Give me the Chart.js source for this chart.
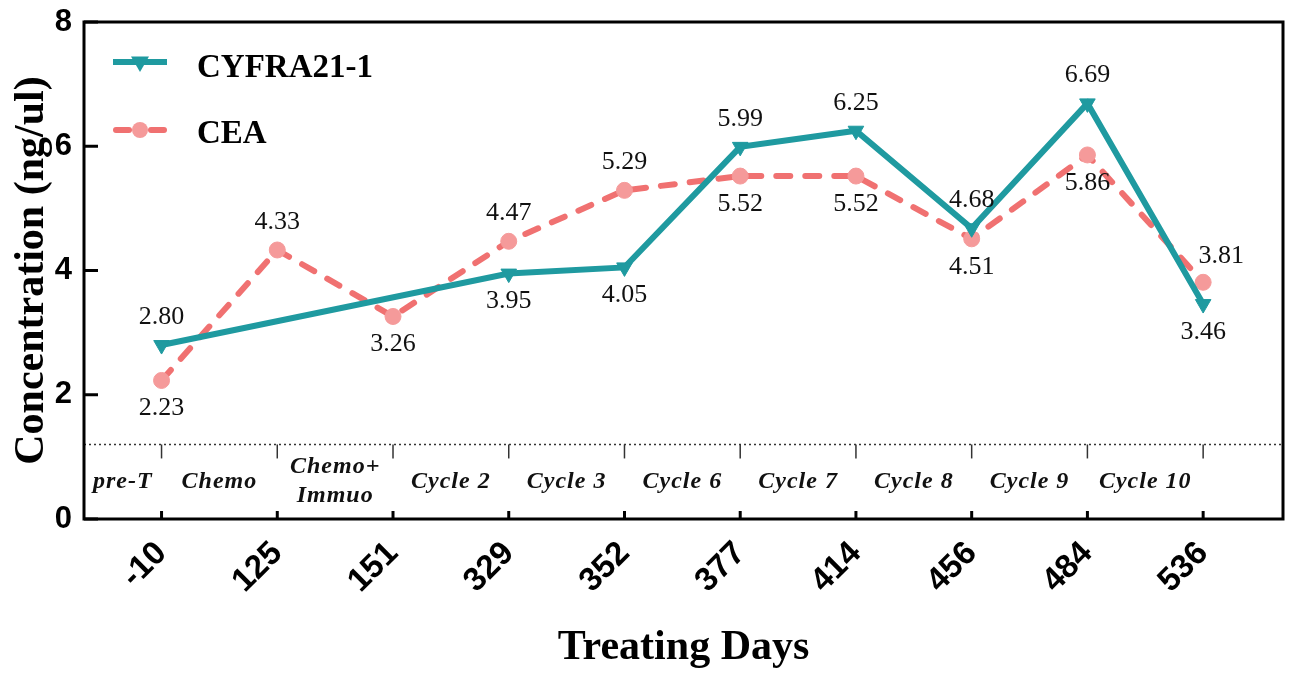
<!DOCTYPE html>
<html><head><meta charset="utf-8">
<script src="https://cdn.jsdelivr.net/npm/chart.js@4.4.0/dist/chart.umd.min.js"></script>
<style>html,body{margin:0;padding:0;background:#fff;} #wrap{width:1299px;height:677px;position:relative;}</style>
</head><body><div id="wrap"><canvas id="c"></canvas></div>
<script>
// ---- data ----
const categories = ['-10','125','151','329','352','377','414','456','484','536'];
const cyfraValues = [2.80, null, null, 3.95, 4.05, 5.99, 6.25, 4.68, 6.69, 3.46];
const ceaValues = [2.23, 4.33, 3.26, 4.47, 5.29, 5.52, 5.52, 4.51, 5.86, 3.81];
const phaseLabels = ['pre-T','Chemo','Chemo+\nImmuo','Cycle 2','Cycle 3','Cycle 6','Cycle 7','Cycle 8','Cycle 9','Cycle 10'];
const yTicks = [0, 2, 4, 6, 8];
const dividerLevel = 1.2;
const cyfraLabelPlace = ['above',null,null,'below','below','above','above','above','above','below'];
const ceaLabelPlace = ['below','above','below','above','above','below','below','below','below','aboveRight'];

// ---- styles ----
const SERIF = '"Liberation Serif", "Times New Roman", serif';
const SANS = '"Liberation Sans", Arial, sans-serif';
const TEAL = '#1f9aa0';
const SALMON = '#f07171';
const SALMON_PT = '#f59a9a';

const toPoints = arr => arr.map((v, i) => ({x: i, y: v}));

const decor = {
  id: 'decor',
  beforeDatasetsDraw(chart) {
    const {ctx, chartArea: a, scales: {x, y}} = chart;
    const yd = y.getPixelForValue(dividerLevel);
    ctx.save();
    ctx.strokeStyle = '#333'; ctx.lineWidth = 1.5; ctx.setLineDash([2, 3]);
    ctx.beginPath(); ctx.moveTo(a.left, yd); ctx.lineTo(a.right, yd); ctx.stroke();
    ctx.setLineDash([]);
    categories.forEach((c, i) => {
      const px = x.getPixelForValue(i);
      ctx.beginPath(); ctx.moveTo(px, yd); ctx.lineTo(px, yd + 14); ctx.stroke();
    });
    ctx.fillStyle = '#111';
    ctx.font = 'italic bold 24px ' + SERIF;
    ctx.textAlign = 'center'; ctx.textBaseline = 'middle';
    try { ctx.letterSpacing = '1px'; } catch (e) {}
    const ym = y.getPixelForValue(dividerLevel / 2);
    phaseLabels.forEach((t, i) => {
      const x0 = i === 0 ? x.min : i - 1;
      const xc = (x.getPixelForValue(x0) + x.getPixelForValue(i)) / 2;
      const lines = t.split('\n');
      lines.forEach((ln, k) => ctx.fillText(ln, xc, ym + (k - (lines.length - 1) / 2) * 29));
    });
    ctx.restore();
  },
  afterDatasetsDraw(chart) {
    const {ctx, chartArea: a} = chart;
    ctx.save();
    // value labels
    ctx.fillStyle = '#111';
    ctx.font = '26px ' + SERIF;
    ctx.textAlign = 'center'; ctx.textBaseline = 'middle';
    const places = [cyfraLabelPlace, ceaLabelPlace];
    const values = [cyfraValues, ceaValues];
    [0, 1].forEach(d => {
      const meta = chart.getDatasetMeta(d);
      meta.data.forEach((pt, i) => {
        const v = values[d][i];
        const pl = places[d][i];
        if (v == null || !pl) return;
        let dx = 0, dy = 0;
        if (pl === 'above') dy = -28;
        else if (pl === 'below') dy = 28;
        else if (pl === 'aboveRight') { dx = 18; dy = -26; }
        ctx.fillText(v.toFixed(2), pt.x + dx, pt.y + dy);
      });
    });
    // legend
    const items = [
      {text: 'CYFRA21-1', ds: 0, ly: a.top + 40, ty: a.top + 55},
      {text: 'CEA', ds: 1, ly: a.top + 108, ty: a.top + 121}
    ];
    items.forEach(it => {
      const ds = chart.data.datasets[it.ds];
      const x1 = a.left + 29, x2 = a.left + 83, xm = (x1 + x2) / 2;
      ctx.strokeStyle = ds.borderColor; ctx.lineWidth = ds.borderWidth;
      ctx.lineCap = ds.borderCapStyle || 'butt';
      if (ds.borderDash) {
        ctx.beginPath(); ctx.moveTo(x1 + 3, it.ly); ctx.lineTo(x1 + 16, it.ly); ctx.stroke();
        ctx.beginPath(); ctx.moveTo(x2 - 16, it.ly); ctx.lineTo(x2 - 3, it.ly); ctx.stroke();
      } else {
        ctx.beginPath(); ctx.moveTo(x1, it.ly); ctx.lineTo(x2, it.ly); ctx.stroke();
      }
      ctx.lineCap = 'butt';
      ctx.fillStyle = ds.pointBackgroundColor;
      ctx.beginPath();
      if (ds.pointStyle === 'circle') { ctx.arc(xm, it.ly, ds.pointRadius, 0, Math.PI * 2); }
      else {
        const r = ds.pointRadius;
        ctx.moveTo(xm - r, it.ly - r * 0.6); ctx.lineTo(xm + r, it.ly - r * 0.6); ctx.lineTo(xm, it.ly + r * 1.1); ctx.closePath();
      }
      ctx.fill();
      ctx.fillStyle = '#000';
      ctx.font = 'bold 33px ' + SERIF;
      ctx.textAlign = 'left'; ctx.textBaseline = 'alphabetic';
      ctx.fillText(it.text, a.left + 113, it.ty);
    });
    ctx.restore();
  },
  afterDraw(chart) {
    const {ctx, chartArea: a, scales: {x, y}} = chart;
    ctx.save();
    ctx.strokeStyle = '#000'; ctx.lineWidth = 3;
    ctx.strokeRect(a.left, a.top, a.right - a.left, a.bottom - a.top);
    yTicks.forEach(v => {
      const py = y.getPixelForValue(v);
      ctx.beginPath(); ctx.moveTo(a.left, py); ctx.lineTo(a.left + 14, py); ctx.stroke();
    });
    categories.forEach((c, i) => {
      const px = x.getPixelForValue(i);
      ctx.beginPath(); ctx.moveTo(px, a.bottom); ctx.lineTo(px, a.bottom - 8); ctx.stroke();
    });
    ctx.restore();
  }
};

new Chart(document.getElementById('c'), {
  type: 'line',
  data: {
    datasets: [
      {
        label: 'CYFRA21-1', data: toPoints(cyfraValues), spanGaps: true,
        borderColor: TEAL, borderWidth: 6, backgroundColor: TEAL,
        pointStyle: 'triangle', pointRotation: 180, pointRadius: 9,
        pointBackgroundColor: TEAL, pointBorderColor: TEAL, pointBorderWidth: 1,
        tension: 0
      },
      {
        label: 'CEA', data: toPoints(ceaValues), spanGaps: true,
        borderColor: SALMON, borderWidth: 6, borderDash: [14, 15], borderCapStyle: 'round',
        backgroundColor: SALMON_PT,
        pointStyle: 'circle', pointRadius: 8,
        pointBackgroundColor: SALMON_PT, pointBorderColor: SALMON_PT, pointBorderWidth: 1,
        tension: 0
      }
    ]
  },
  options: {
    responsive: true, maintainAspectRatio: false, animation: false,
    layout: {padding: {top: 22, right: 16, left: 0, bottom: 0}},
    plugins: {legend: {display: false}, tooltip: {enabled: false}},
    scales: {
      x: {
        type: 'linear', min: -0.67, max: 9.69,
        afterBuildTicks: s => { s.ticks = categories.map((_, i) => ({value: i})); },
        afterFit: s => { s.height = 158; s.paddingLeft = 0; s.paddingRight = 0; },
        grid: {display: false, drawTicks: false},
        border: {display: false},
        ticks: {
          callback: v => categories[v], maxRotation: 45, minRotation: 45, autoSkip: false,
          padding: 15, color: '#000', font: {family: SANS, weight: 'bold', size: 33}
        },
        title: {display: true, text: 'Treating Days', color: '#000',
          font: {family: SERIF, weight: 'bold', size: 42}, padding: {top: 0, bottom: 4}}
      },
      y: {
        min: 0, max: 8,
        afterBuildTicks: s => { s.ticks = yTicks.map(v => ({value: v})); },
        afterFit: s => { s.width = 84; s.paddingTop = 0; s.paddingBottom = 0; },
        grid: {display: false, drawTicks: false},
        border: {display: false},
        ticks: {padding: 12, color: '#000', font: {family: SANS, weight: 'bold', size: 31}},
        title: {display: true, text: 'Concentration (ng/ul)', color: '#000',
          font: {family: SERIF, weight: 'bold', size: 42}, padding: {top: 7, bottom: 0}}
      }
    }
  },
  plugins: [decor]
});
</script>
</body></html>
